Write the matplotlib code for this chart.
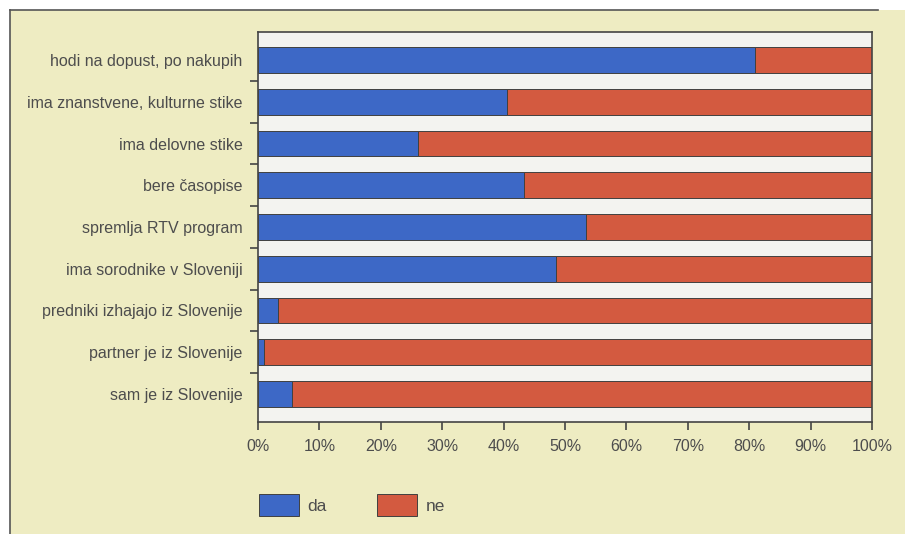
import matplotlib
matplotlib.use("Agg")
import matplotlib.pyplot as plt
from matplotlib.lines import Line2D
import numpy as np

plt.rcParams['font.family'] = ['Liberation Sans Narrow', 'Liberation Sans', 'DejaVu Sans']

# share of respondents answering "da" (in %), top to bottom
categories = [
    'hodi na dopust, po nakupih',
    'ima znanstvene, kulturne stike',
    'ima delovne stike',
    'bere časopise',
    'spremlja RTV program',
    'ima sorodnike v Sloveniji',
    'predniki izhajajo iz Slovenije',
    'partner je iz Slovenije',
    'sam je iz Slovenije',
]
da = [81, 40.6, 26.1, 43.4, 53.5, 48.5, 3.3, 0.9, 5.6]
ne = [100 - v for v in da]
xticks = list(range(0, 101, 10))

blue = '#3d68c6'
red = '#d35a40'
panel = '#eeecc2'
text_col = '#4d4d4d'

fig = plt.figure(figsize=(9.05, 5.34), dpi=100)
fig.patch.set_facecolor('white')

# yellow page panel with its frame
fig.patches.append(plt.Rectangle((10 / 905, 0), 1, 1 - 10 / 534, transform=fig.transFigure,
                                 facecolor=panel, edgecolor='none', zorder=-10))
fig.lines.append(Line2D([10 / 905, 10 / 905], [0, 1 - 10 / 534], transform=fig.transFigure,
                        color='#555555', lw=1.2))
fig.lines.append(Line2D([10 / 905, 878 / 905], [1 - 10 / 534, 1 - 10 / 534], transform=fig.transFigure,
                        color='#555555', lw=1.2))

ax = fig.add_axes([258 / 905, 111.7 / 534, 614 / 905, 390.6 / 534])
ax.set_facecolor('#f3f3f0')

y = np.arange(len(categories))
h = 0.62
bars_da = ax.barh(y, da, height=h, color=blue, edgecolor='#404040', linewidth=0.7, label='da')
bars_ne = ax.barh(y, ne, left=da, height=h, color=red, edgecolor='#404040', linewidth=0.7, label='ne')

ax.set_xlim(0, 100)
ax.set_ylim(len(categories) - 1 + 0.68, -0.68)

ax.set_xticks(xticks)
ax.set_xticklabels([f'{v}%' for v in xticks], fontsize=11.5, color=text_col)
ax.set_yticks(y)
ax.set_yticklabels(categories, fontsize=11.5, color=text_col)
ax.tick_params(axis='y', which='major', length=0, pad=11)
ax.set_yticks(y[:-1] + 0.5, minor=True)
ax.tick_params(axis='y', which='minor', length=6, width=1.2, color='#444444', direction='out')
ax.tick_params(axis='x', length=6, width=1.2, color='#444444', direction='out', pad=6)

for side in ['left', 'bottom', 'top', 'right']:
    ax.spines[side].set_color('#444444')
    ax.spines[side].set_linewidth(1.2)

fig.legend(handles=[bars_da, bars_ne], labels=['da', 'ne'], loc='center left',
           bbox_to_anchor=(243 / 905, 1 - 505 / 534), ncol=2, frameon=False,
           fontsize=12.5, handlelength=2.3, handleheight=1.5, handletextpad=0.5,
           columnspacing=2.9, labelcolor=text_col)

fig.savefig('out.png', dpi=100, facecolor=fig.get_facecolor())
